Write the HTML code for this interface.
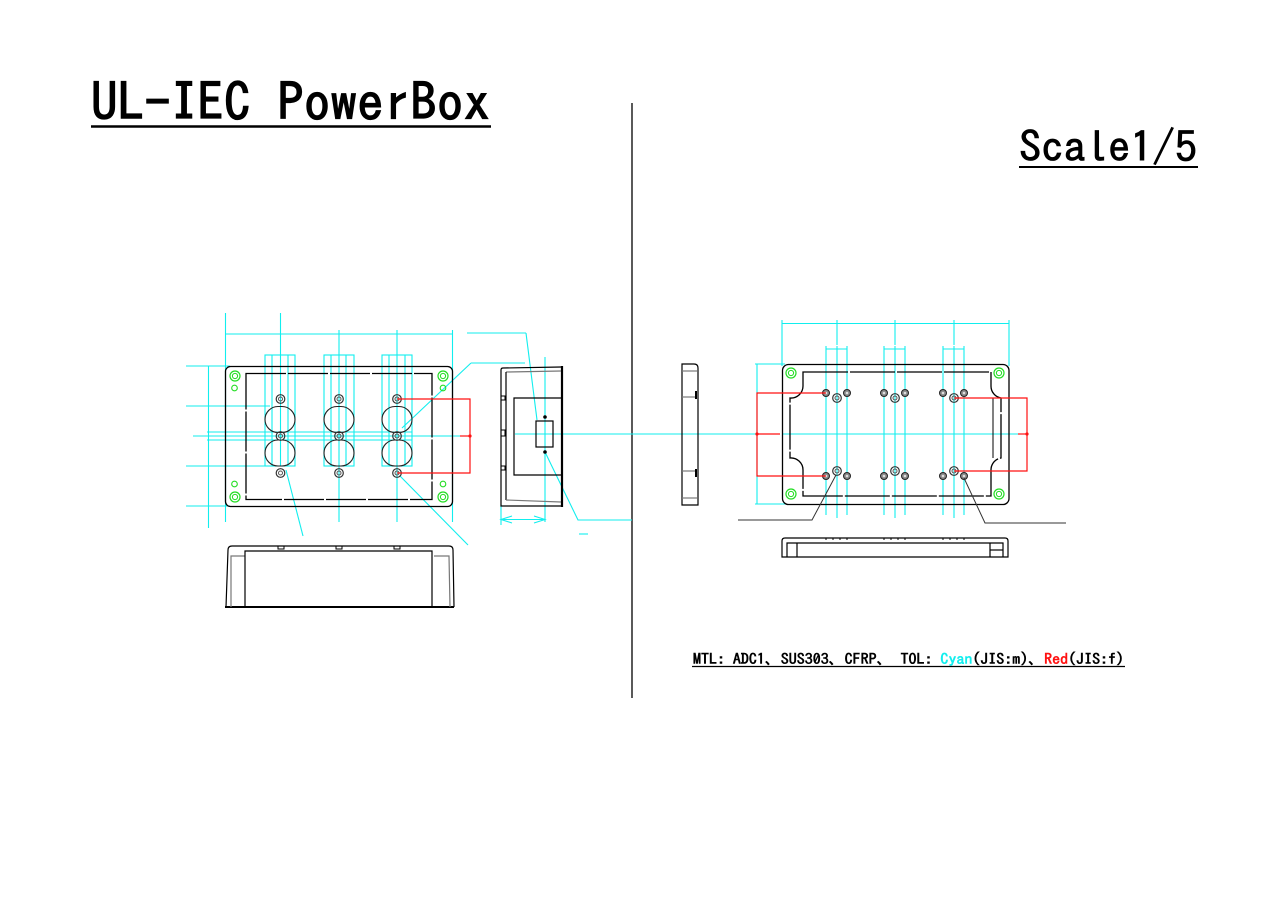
<!DOCTYPE html>
<html><head><meta charset="utf-8"><style>
html,body{margin:0;padding:0;background:#fff;width:1286px;height:908px;overflow:hidden}
svg{display:block}
text{font-family:"IPAGothic","Liberation Sans","Noto Sans CJK JP",sans-serif}
</style></head><body>
<svg width="1286" height="908" viewBox="0 0 1286 908" xmlns="http://www.w3.org/2000/svg">
<defs>
<g id="scr"><circle r="4.3" fill="none" stroke="#333" stroke-width="1.2"/><circle r="2" fill="none" stroke="#555" stroke-width="1"/></g>
<g id="scs"><circle r="3.5" fill="#888" stroke="#222" stroke-width="1"/><circle r="1.3" fill="#ddd"/></g>
<g id="gb"><circle r="5" fill="none" stroke="#2d2" stroke-width="1.2"/><circle r="2.6" fill="none" stroke="#2d2" stroke-width="1"/></g>
</defs>
<!-- titles -->
<text x="91" y="121" font-size="52" stroke="#000" stroke-width="1.2" textLength="399" lengthAdjust="spacingAndGlyphs">UL-IEC PowerBox</text>
<line x1="91" y1="126.5" x2="491" y2="126.5" stroke="#000" stroke-width="2.5"/>
<text x="1019" y="162" font-size="42" stroke="#000" stroke-width="0.8" textLength="178" lengthAdjust="spacingAndGlyphs">Scale1/5</text>
<line x1="1019" y1="167" x2="1198" y2="167" stroke="#000" stroke-width="2"/>
<line x1="632" y1="103" x2="632" y2="698" stroke="#000" stroke-width="1.3"/>
<text x="693" y="664" font-size="14.5" font-weight="bold" textLength="431" lengthAdjust="spacingAndGlyphs">MTL: ADC1、SUS303、CFRP、  TOL: <tspan fill="#1ee">Cyan</tspan>(JIS:m)、<tspan fill="#f11">Red</tspan>(JIS:f)</text>
<line x1="692" y1="666.5" x2="1125" y2="666.5" stroke="#000" stroke-width="1.3"/>

<!-- LEFT: cyan construction -->
<g stroke="#1ee" stroke-width="1.1" fill="none">
<line x1="225.5" y1="313" x2="225.5" y2="522"/>
<line x1="280.5" y1="313" x2="280.5" y2="355"/>
<line x1="339" y1="330" x2="339" y2="522"/>
<line x1="397" y1="330" x2="397" y2="522"/>
<line x1="452.5" y1="330" x2="452.5" y2="522"/>
<line x1="225" y1="334" x2="453" y2="334"/>
<rect x="265" y="355" width="30" height="111"/><line x1="272" y1="355" x2="272" y2="466"/><line x1="280.5" y1="355" x2="280.5" y2="466"/><line x1="288" y1="355" x2="288" y2="466"/>
<rect x="324" y="355" width="30" height="111"/><line x1="331" y1="355" x2="331" y2="466"/><line x1="346" y1="355" x2="346" y2="466"/>
<rect x="382" y="355" width="30" height="111"/><line x1="389" y1="355" x2="389" y2="466"/><line x1="405" y1="355" x2="405" y2="466"/>
<line x1="186" y1="366" x2="230" y2="366"/>
<line x1="186" y1="406" x2="270" y2="406"/>
<line x1="207" y1="432" x2="412" y2="432"/>
<line x1="193" y1="436" x2="460" y2="436"/>
<line x1="207" y1="440" x2="412" y2="440"/>
<line x1="186" y1="466" x2="270" y2="466"/>
<line x1="186" y1="506" x2="230" y2="506"/>
<line x1="208.5" y1="366" x2="208.5" y2="528"/>
<line x1="467" y1="333" x2="526" y2="333"/><line x1="526" y1="333" x2="537" y2="420"/>
<line x1="471" y1="363" x2="525" y2="363"/><line x1="471" y1="363" x2="402" y2="428"/>
<line x1="286" y1="470" x2="303" y2="536"/>
<line x1="400" y1="476" x2="468" y2="545"/>
<line x1="545" y1="357" x2="545" y2="522"/>
<line x1="501" y1="504" x2="501" y2="525"/>
<line x1="501" y1="519.5" x2="545" y2="519.5"/>
<polyline points="512,516 501,519.5 512,523"/><polyline points="534,516 545,519.5 534,523"/>
<polyline points="545,452 578,520 632,520"/>
<line x1="579" y1="534" x2="588" y2="534"/>
<line x1="515" y1="434" x2="690" y2="434"/>
</g>
<!-- left front view -->
<g stroke="#000" stroke-width="1.3" fill="none">
<rect x="225.5" y="366.5" width="227" height="140" rx="5"/>
<rect x="246" y="373.5" width="186" height="126" stroke-dasharray="40 2"/>
<g stroke="#222" stroke-width="1.1">
<rect x="265" y="406.5" width="30" height="26" rx="13"/><rect x="265" y="440" width="30" height="26" rx="13"/>
<rect x="324" y="406.5" width="30" height="26" rx="13"/><rect x="324" y="440" width="30" height="26" rx="13"/>
<rect x="382" y="406.5" width="30" height="26" rx="13"/><rect x="382" y="440" width="30" height="26" rx="13"/>
</g>
</g>
<use href="#scr" x="280.5" y="399"/><use href="#scr" x="280.5" y="436"/><use href="#scr" x="280.5" y="473"/>
<use href="#scr" x="339" y="399"/><use href="#scr" x="339" y="436"/><use href="#scr" x="339" y="473"/>
<use href="#scr" x="397" y="399"/><use href="#scr" x="397" y="436"/><use href="#scr" x="397" y="473"/>
<use href="#gb" x="235" y="376"/><use href="#gb" x="235" y="497"/><use href="#gb" x="443" y="376"/><use href="#gb" x="443" y="497"/>
<g fill="none" stroke="#2d2" stroke-width="1.1"><circle cx="234.5" cy="388" r="2.8"/><circle cx="234.5" cy="484" r="2.8"/><circle cx="443" cy="388" r="2.8"/><circle cx="443" cy="484" r="2.8"/></g>
<g stroke="#f11" stroke-width="1.2" fill="none"><polyline points="397,399 470,399 470,473 397,473"/><line x1="460" y1="436" x2="470" y2="436"/></g>
<circle cx="470" cy="436" r="1.6" fill="#f11"/>
<!-- side view -->
<g stroke="#000" stroke-width="1.2" fill="none">
<path d="M561,367 L503,368 Q501,368 501,370 L501,506 L562,506"/>
<line x1="562" y1="366" x2="562" y2="507" stroke-width="2.2"/>
<line x1="506" y1="372" x2="561" y2="371" stroke="#777"/>
<line x1="506" y1="372" x2="506" y2="500"/>
<line x1="506" y1="500" x2="561" y2="502" stroke="#777"/>
<polyline points="562,398 514,398 514,475 562,475"/>
<rect x="536" y="421" width="17" height="26"/>
<path d="M501,396 h4 v4 h-4 M501,430 h4 v6 h-4 M501,466 h4 v4 h-4" stroke-width="1"/>
</g>
<circle cx="545" cy="417" r="1.8" fill="#000"/><circle cx="545" cy="452" r="1.8" fill="#000"/>
<!-- bottom view left -->
<g stroke="#000" stroke-width="1.2" fill="none">
<path d="M226,607 L228,550 Q228,546 232,546 L449,546 Q453,546 453,550 L454,607"/>
<line x1="225" y1="607" x2="454" y2="607" stroke-width="2"/>
<polyline points="231,607 231,556 245,556" stroke="#777"/>
<polyline points="245,607 245,551 432,551 432,607" />
<polyline points="450,607 449,556 434,556" stroke="#777"/>
<path d="M278,546 v3 h6 v-3 M336,546 v3 h6 v-3 M394,546 v3 h6 v-3" stroke-width="1"/>
</g>

<!-- RIGHT -->
<g stroke="#1ee" stroke-width="1.1" fill="none">
<line x1="690" y1="434" x2="780" y2="434"/>
<line x1="782" y1="434" x2="1018" y2="434"/>
<line x1="782" y1="320" x2="782" y2="366"/>
<line x1="1009" y1="320" x2="1009" y2="366"/>
<line x1="782" y1="323.5" x2="1009" y2="323.5"/>
<line x1="837" y1="320" x2="837" y2="345"/><line x1="895" y1="320" x2="895" y2="345"/><line x1="954" y1="320" x2="954" y2="345"/>
<line x1="826" y1="349" x2="847" y2="349"/><line x1="884" y1="349" x2="905" y2="349"/><line x1="943" y1="349" x2="964" y2="349"/>
<g>
<line x1="826" y1="346" x2="826" y2="515"/><line x1="837" y1="346" x2="837" y2="518"/><line x1="847" y1="346" x2="847" y2="515"/>
<line x1="884" y1="346" x2="884" y2="515"/><line x1="895" y1="346" x2="895" y2="518"/><line x1="905" y1="346" x2="905" y2="515"/>
<line x1="943" y1="346" x2="943" y2="515"/><line x1="954" y1="346" x2="954" y2="518"/><line x1="964" y1="346" x2="964" y2="515"/>
</g>
<line x1="757" y1="364" x2="757" y2="504"/>
<line x1="755" y1="364" x2="785" y2="364"/>
<line x1="755" y1="504" x2="785" y2="504"/>
</g>
<!-- thin side -->
<g stroke="#000" stroke-width="1.2" fill="none">
<path d="M682,364 L682,505 L698,505 L698,368 Q698,364 694,364 Z"/>
<line x1="682" y1="371" x2="697" y2="371" stroke="#777"/>
<line x1="682" y1="397" x2="697" y2="397" stroke="#777"/>
<line x1="682" y1="471" x2="697" y2="471" stroke="#777"/>
<line x1="682" y1="498" x2="697" y2="498" stroke="#777"/>
<path d="M696,391 v8 M696,469 v8" stroke-width="2"/>
</g>
<!-- back view -->
<g stroke="#000" stroke-width="1.3" fill="none">
<rect x="782.5" y="364.5" width="226.5" height="140" rx="6"/>
<path d="M803,372 H991 V386 A12,12 0 0 0 1001,398 V458 A12,12 0 0 0 991,470 V496 H803 V470 A12,12 0 0 0 790,458 V398 A12,12 0 0 0 803,386 Z" stroke-dasharray="45 2"/>
<line x1="993" y1="398" x2="993" y2="458" stroke-width="1"/>
</g>
<use href="#scs" x="826" y="393"/><use href="#scr" x="837" y="398"/><use href="#scs" x="847" y="393"/>
<use href="#scs" x="884" y="393"/><use href="#scr" x="895" y="398"/><use href="#scs" x="905" y="393"/>
<use href="#scs" x="943" y="393"/><use href="#scr" x="954" y="398"/><use href="#scs" x="964" y="393"/>
<use href="#scs" x="826" y="476"/><use href="#scr" x="837" y="471"/><use href="#scs" x="847" y="476"/>
<use href="#scs" x="884" y="476"/><use href="#scr" x="895" y="471"/><use href="#scs" x="905" y="476"/>
<use href="#scs" x="943" y="476"/><use href="#scr" x="954" y="471"/><use href="#scs" x="964" y="476"/>
<use href="#gb" x="791" y="373"/><use href="#gb" x="999" y="373"/><use href="#gb" x="791" y="494"/><use href="#gb" x="999" y="494"/>
<g stroke="#f11" stroke-width="1.2" fill="none">
<polyline points="826,393 757,393 757,476 826,476"/><line x1="757" y1="434" x2="780" y2="434"/>
<polyline points="954,398 1027,398 1027,471 954,471"/><line x1="1018" y1="434" x2="1027" y2="434"/>
</g>
<circle cx="757" cy="434" r="1.6" fill="#f11"/><circle cx="1027" cy="434" r="1.6" fill="#f11"/>
<g stroke="#333" stroke-width="1" fill="none">
<polyline points="836,475 812,520 738,520"/>
<polyline points="964,478 985,523 1066,523"/>
</g>
<!-- bottom right -->
<g stroke="#000" stroke-width="1.2" fill="none">
<path d="M782,557 V541 Q782,538 785,538 H1005 Q1008,538 1008,541 V557 Z"/>
<polyline points="787,557 787,543 1003,543 1003,557"/>
<line x1="797" y1="543" x2="797" y2="557"/>
<line x1="990" y1="543" x2="990" y2="557"/>
<line x1="990" y1="550" x2="1003" y2="550"/>
<path d="M826,538 v2 M833,538 v2 M840,538 v2 M847,538 v2 M884,538 v2 M891,538 v2 M898,538 v2 M905,538 v2 M943,538 v2 M950,538 v2 M957,538 v2 M964,538 v2" stroke-width="1"/>
</g>
</svg>
</body></html>
